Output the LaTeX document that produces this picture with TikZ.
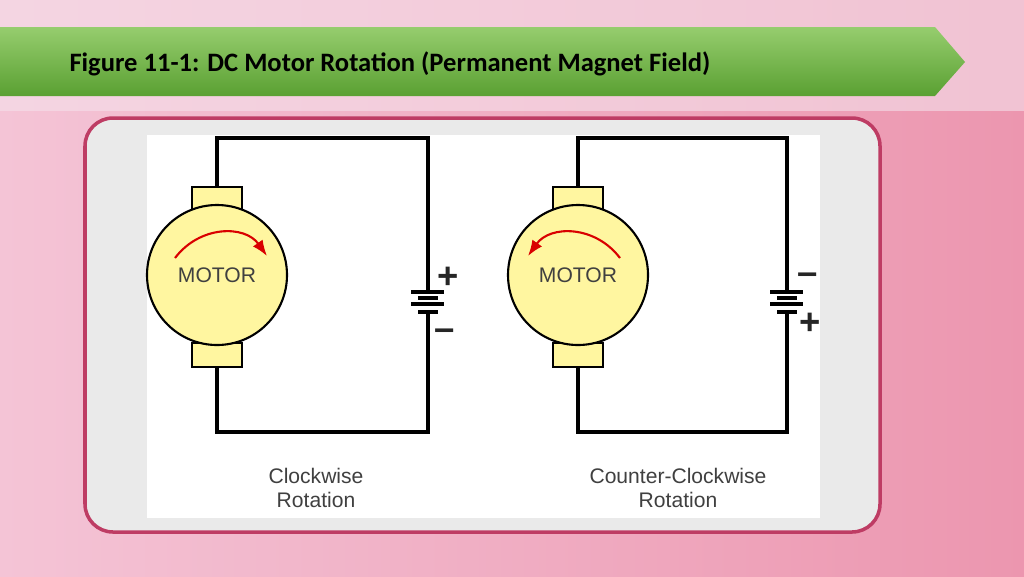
\documentclass[tikz,border=0pt]{standalone}
\usepackage{fontspec}
\setmainfont{Carlito}
\setsansfont{Liberation Sans}
\usetikzlibrary{arrows.meta,positioning}
\definecolor{motorfill}{RGB}{255,246,160}
\definecolor{framepink}{RGB}{190,60,100}
\tikzstyle{wire} = [draw, line width=1.8pt]
\tikzstyle{motorbody} = [circle, draw, line width=1.2pt, fill=motorfill, minimum size=140\unitlen, font=\sffamily\large, text=black!75]
\tikzstyle{brush} = [draw, line width=0.8pt, fill=motorfill, minimum width=50\unitlen, minimum height=24\unitlen]
\tikzstyle{plate} = [line width=2.2pt]
\tikzstyle{sign} = [font=\sffamily\bfseries\huge, text=black!85]
\tikzstyle{caption} = [font=\sffamily\large, align=center, text=black!75]
\newlength{\unitlen}
\setlength{\unitlen}{0.02cm}
\begin{document}
\begin{tikzpicture}[x=0.02cm, y=-0.02cm]
    % background and banner
    \useasboundingbox (0,0) rectangle (1024,576);
    \shade[left color={rgb,255:red,244;green,196;blue,214}, right color={rgb,255:red,236;green,150;blue,175}] (0,0) rectangle (1024,576);
    \shade[top color={rgb,255:red,245;green,225;blue,235}, bottom color={rgb,255:red,245;green,225;blue,235}, opacity=0.6] (0,0) rectangle (1024,110);
    \shade[top color={rgb,255:red,150;green,205;blue,110}, bottom color={rgb,255:red,90;green,160;blue,50}]
        (0,27) -- (935,27) -- (965,62) -- (935,96) -- (0,96) -- cycle;
    \node[anchor=west, font=\bfseries\Large, scale=1.05] (title) at (63,64) {Figure 11-1: DC Motor Rotation (Permanent Magnet Field)};
    % frame
    \draw[framepink, line width=2pt, fill={rgb,255:red,234;green,234;blue,234}, rounded corners=28\unitlen] (85,118) rectangle (880,532);
    \fill[white] (147,135) rectangle (820,518);
    % motors
    \foreach \mx/\bx/\name in {217/428/L, 578/787/R} {
        \node[brush] (top\name) at (\mx,199) {};
        \node[brush] (bot\name) at (\mx,355) {};
        \node[motorbody] (motor\name) at (\mx,275) {MOTOR};
        \coordinate (tl\name) at (\mx,138);
        \coordinate (tr\name) at (\bx,138);
        \coordinate (bt\name) at (\bx,292);
        \coordinate (bb\name) at (\bx,312);
        \coordinate (br\name) at (\bx,432);
        \coordinate (bl\name) at (\mx,432);
        \path[wire] (top\name.north) -- (tl\name) -- (tr\name) -- (bt\name);
        \path[wire] (bb\name) -- (br\name) -- (bl\name) -- (bot\name.south);
        \draw[plate] (\bx-17,292) -- (\bx+16,292);
        \draw[plate] (\bx-10,298) -- (\bx+10,298);
        \draw[plate] (\bx-17,304) -- (\bx+16,304);
        \draw[plate] (\bx-10,312) -- (\bx+10,312);
    }
    % rotation arrows
    \draw[red!85!black, line width=1.2pt, -{Latex[length=9pt]}] (175,258) .. controls (200,225) and (245,225) .. (267,256);
    \draw[red!85!black, line width=1.2pt, -{Latex[length=9pt]}] (620,258) .. controls (595,225) and (550,225) .. (528,256);
    % polarity
    \node[sign] (plusL) at (448,278) {+};
    \node[sign] (minusL) at (445,335) {--};
    \node[sign] (minusR) at (808,279) {--};
    \node[sign] (plusR) at (810,324) {+};
    % captions
    \node[caption] (capL) at (316,488) {Clockwise\\Rotation};
    \node[caption] (capR) at (678,488) {Counter-Clockwise\\Rotation};
\end{tikzpicture}
\end{document}
